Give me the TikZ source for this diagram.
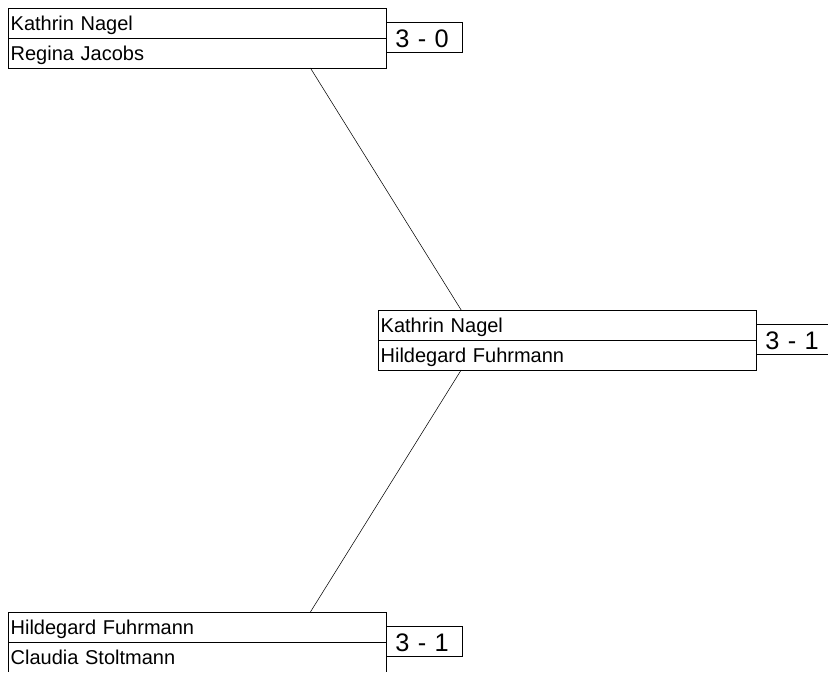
\documentclass[tikz,border=0pt]{standalone}
\usepackage{fontspec}
\setmainfont{Liberation Sans}
\usepackage{tikz}
\usetikzlibrary{calc, positioning}
\tikzset{
    auto,node distance =0pt and 0pt,% the two rows of a match and the score box touch each other
}

\begin{document}
\begin{tikzpicture}[x=0.75pt, y=-0.75pt
        ,every node/.style ={draw, rectangle, line width=0.75pt, inner ysep=0pt, outer sep=0pt},
        player/.style ={minimum height=22.5pt, text width=279.5pt, inner xsep=2pt, text height=16.5pt, text depth=6pt, align=left, font=\fontsize{15}{18}\selectfont},
        score/.style ={anchor=west, minimum height=22.5pt, text width=43pt, inner xsep=7pt, text height=18.75pt, text depth=3.75pt, align=left, font=\fontsize{19}{22}\selectfont},]
            \useasboundingbox (0,0) rectangle (828,672);
            \clip (0,0) rectangle (828,671.5);
            \node[player, anchor=north west] (nagel1) at (8,8) {Kathrin Nagel};
            \node[player] (jacobs) [below =of nagel1] {Regina Jacobs};
            \node[score] (s30) at ([yshift=0.75pt]nagel1.south east) {3 - 0};
            \node[player, anchor=north west] (nagel2) at (378,310) {Kathrin Nagel};
            \node[player] (fuhrmann2) [below =of nagel2] {Hildegard Fuhrmann};
            \node[score] (s31a) at ([yshift=0.75pt]nagel2.south east) {3 - 1};
            \node[player, anchor=north west] (fuhrmann1) at (8,612) {Hildegard Fuhrmann};
            \node[player] (stoltmann) [below =of fuhrmann1] {Claudia Stoltmann};
            \node[score] (s31b) at ([yshift=0.75pt]fuhrmann1.south east) {3 - 1};
            \draw[line width=0.4pt] ($(jacobs.south west)!0.8!(jacobs.south east)$) -- ($(nagel2.north west)!0.22!(nagel2.north east)$);
            \draw[line width=0.4pt] ($(fuhrmann2.south west)!0.22!(fuhrmann2.south east)$) -- ($(fuhrmann1.north west)!0.8!(fuhrmann1.north east)$);
        \end{tikzpicture}
\end{document}
